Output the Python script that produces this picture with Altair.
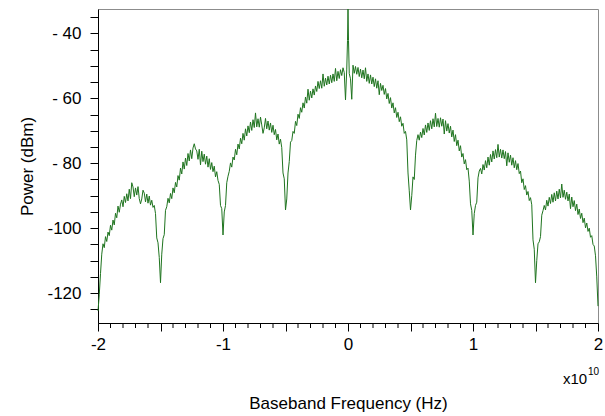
import altair as alt
import pandas as pd

# Power (dBm) sampled every 0.01 x10^10 Hz, read off the reference
# f = -2.00 ... -0.01
left_power = [
    -125.5, -120.5, -114.0, -108.0, -104.8, -106.0, -102.6, -104.1, -101.2, -102.3,
    -99.1, -100.6, -97.5, -99.0, -95.4, -96.8, -93.2, -95.1, -92.6, -91.3,
    -93.4, -90.2, -92.1, -89.4, -91.6, -88.0, -90.9, -86.0, -87.3, -90.3,
    -87.6, -89.8, -87.2, -90.9, -92.5, -91.0, -88.3, -89.2, -91.9, -89.5,
    -92.3, -90.1, -92.9, -91.4, -93.6, -93.0, -95.5, -103.0, -104.5, -109.0,
    -116.8, -108.0, -103.2, -102.0, -94.5,
    -93.4, -90.8, -92.2, -89.3, -90.9, -87.6, -89.1, -85.9, -87.3, -83.8,
    -85.2, -81.5, -83.3, -79.6, -81.8, -78.4, -80.7, -77.0, -79.3, -75.9,
    -78.6, -75.3, -74.0, -75.6, -76.2, -78.8, -75.7, -80.5, -76.3, -79.5,
    -77.2, -80.3, -77.8, -81.2, -78.6, -81.9, -79.8, -82.6, -80.9, -84.2,
    -82.6, -85.3, -86.5, -93.0, -94.0, -102.1, -95.0, -93.0, -86.0, -84.0,
    -82.5, -79.9, -81.2, -78.1, -79.0, -75.7, -77.4, -74.1, -75.6, -72.3,
    -74.0, -70.8, -72.9, -69.4, -71.6, -68.5, -70.6, -67.3, -69.9, -66.6,
    -69.0, -64.5, -68.8, -66.3, -68.9, -65.8, -68.2, -70.8, -69.1, -66.2,
    -69.4, -67.0, -69.8, -67.6, -70.5, -68.3, -71.2, -69.6, -72.8, -71.0,
    -74.1, -72.6, -75.2, -83.0, -84.8, -94.4, -91.0, -83.0, -79.5, -73.5,
    -73.0, -70.2, -70.8, -67.1, -68.4, -64.9, -66.2, -62.9, -64.3, -61.4,
    -63.0, -59.6, -61.5, -57.2, -60.6, -57.8, -59.9, -57.1, -59.0, -56.2,
    -57.9, -54.8, -57.0, -54.6, -56.9, -52.5, -56.3, -53.8, -55.9, -53.2,
    -55.6, -52.9, -55.2, -52.5, -54.8, -50.8, -54.6, -51.7, -53.9, -51.2,
    -53.0, -50.6, -52.1, -60.5, -51.0,
]
# carrier spike around f = 0
center_freq = [-0.004, 0.0, 0.004]
center_power = [-42.2, -32.5, -42.2]
# f = 0.01 ... 2.00
right_power = [
    -52.4, -54.0, -60.3, -49.8, -52.3, -50.2, -52.6, -50.5, -53.3, -51.0,
    -53.7, -51.3, -54.0, -50.6, -54.8, -52.5, -55.4, -52.8, -55.6, -53.5,
    -56.4, -54.0, -56.9, -54.6, -58.9, -55.4, -57.6, -56.0, -58.8, -57.0,
    -60.2, -58.5, -61.6, -59.8, -63.0, -61.4, -64.5, -62.9, -65.9, -64.3,
    -67.2, -65.7, -68.6, -67.7, -70.8, -70.2, -72.8, -83.0, -88.5, -94.4,
    -90.0, -84.2, -85.0, -77.5, -73.0,
    -71.2, -72.9, -70.4, -72.1, -69.3, -71.3, -68.2, -70.5, -67.6, -69.9,
    -66.9, -69.4, -66.3, -68.8, -64.6, -68.7, -66.2, -68.9, -66.0, -68.6,
    -66.4, -71.0, -66.9, -70.1, -67.8, -70.7, -68.6, -71.9, -69.8, -73.3,
    -71.2, -74.6, -72.9, -76.2, -74.6, -78.1, -77.0, -80.2, -78.9, -82.0,
    -81.5, -85.5, -92.5, -94.5, -102.1, -95.5, -93.0, -92.0, -84.5, -82.4,
    -81.6, -83.3, -80.4, -82.1, -79.2, -81.4, -78.1, -80.6, -77.3, -79.6,
    -76.2, -78.7, -75.8, -78.3, -74.2, -78.1, -75.7, -78.4, -75.9, -78.6,
    -76.4, -80.8, -76.8, -79.7, -77.5, -80.6, -78.3, -81.4, -79.2, -82.0,
    -80.1, -83.2, -82.4, -86.0, -84.8, -88.1, -86.9, -89.8, -88.7, -91.5,
    -90.6, -92.8, -103.6, -106.5, -116.8, -110.0, -104.8, -104.2, -102.6, -96.0,
    -94.6,
    -93.0, -94.4, -91.4, -93.2, -90.5, -92.4, -89.6, -92.0, -89.1, -91.6,
    -88.6, -91.0, -88.0, -90.7, -86.4, -90.5, -88.3, -91.1, -88.9, -91.6,
    -89.5, -94.0, -90.4, -93.4, -91.5, -94.6, -92.6, -95.8, -94.1, -97.0,
    -95.4, -98.3, -96.9, -99.9, -98.4, -101.0, -100.0, -102.8, -102.3, -105.0,
    -105.5, -108.5, -115.0, -124.0,
]

x_major = [-2, -1.5, -1, -0.5, 0, 0.5, 1, 1.5, 2]
x_minor = [-1.9, -1.8, -1.7, -1.6, -1.4, -1.3, -1.2, -1.1, -0.9, -0.8, -0.7, -0.6,
           -0.4, -0.3, -0.2, -0.1, 0.1, 0.2, 0.3, 0.4, 0.6, 0.7, 0.8, 0.9,
           1.1, 1.2, 1.3, 1.4, 1.6, 1.7, 1.8, 1.9]
y_ticks = [-125, -120, -115, -110, -105, -100, -95, -90, -85, -80, -75, -70,
           -65, -60, -55, -50, -45, -40, -35]

step = 0.01
left_freq = [round(-2 + step * i, 3) for i in range(len(left_power))]
right_freq = [round(step * (i + 1), 3) for i in range(len(right_power))]

df = pd.DataFrame({
    "freq": left_freq + center_freq + right_freq,
    "power": left_power + center_power + right_power,
})

FONT = "Liberation Sans"
xscale = alt.Scale(domain=[-2, 2], nice=False, zero=False)
yscale = alt.Scale(domain=[-129.2, -32.5], nice=False, zero=False)

x_axis = alt.Axis(
    values=x_major,
    labelExpr="datum.value % 1 == 0 ? '' + datum.value : ''",
    title="Baseband Frequency (Hz)", tickSize=8, labelPadding=5,
    titlePadding=43, grid=False, labelFlush=False, labelOverlap=False)

line = alt.Chart(df).mark_line(color="#1f741f", strokeWidth=1).encode(
    x=alt.X("freq:Q", scale=xscale, axis=x_axis),
    y=alt.Y("power:Q", scale=yscale, axis=alt.Axis(
        values=y_ticks,
        labelExpr="datum.value % 20 == 0 ? (datum.value > -100 ? '- ' + abs(datum.value) : '' + datum.value) : ''",
        title="Power (dBm)", tickSize=8, labelPadding=9, titlePadding=10,
        grid=False, labelOverlap=False, labelFlush=False)),
)

minor = alt.Chart(pd.DataFrame({"freq": x_minor})).mark_rule(color="black", strokeWidth=1).encode(
    x=alt.X("freq:Q", scale=xscale, axis=x_axis),
    y=alt.value(314),
    y2=alt.value(319),
)

exp_base = alt.Chart(pd.DataFrame({"t": ["x10"]})).mark_text(
    align="left", baseline="alphabetic", fontSize=15, font=FONT, fill="black"
).encode(x=alt.value(465), y=alt.value(375), text="t:N")

exp_sup = alt.Chart(pd.DataFrame({"t": ["10"]})).mark_text(
    align="left", baseline="alphabetic", fontSize=10, font=FONT, fill="black"
).encode(x=alt.value(490), y=alt.value(366), text="t:N")

chart = alt.layer(line, minor, exp_base, exp_sup).properties(
    width=500,
    height=314,
    autosize=alt.AutoSizeParams(type="none"),
    padding={"left": 98, "top": 9, "right": 7, "bottom": 93},
    background="white",
).configure_view(
    stroke="#8c8c8c", strokeWidth=1
).configure_axis(
    domainColor="black", tickColor="black", labelColor="black", titleColor="black",
    labelFont=FONT, titleFont=FONT, labelFontSize=17, titleFontSize=17,
    titleFontWeight="normal", domainWidth=1, tickWidth=1,
)

chart.save("out.html", embed_options={"renderer": "svg", "actions": False})
